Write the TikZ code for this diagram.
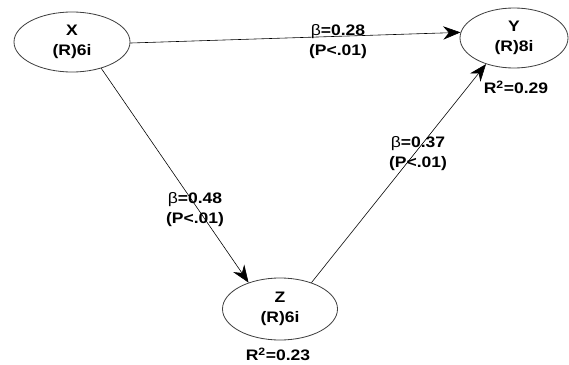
\documentclass[tikz,border=0pt]{standalone}
\usepackage{fontspec}
\setmainfont{Liberation Sans}[FakeStretch=1.15]
\usetikzlibrary{shapes.geometric,arrows.meta}

\begin{document}
\begin{tikzpicture}[x=0.03cm,y=-0.03cm,
  every node/.style={font=\bfseries\fontsize{13}{17}\selectfont, align=center, inner sep=0pt},
  var/.style={ellipse, draw=black!75, line width=0.7pt, minimum height=1.8cm},
  effect/.style={-{Stealth[length=5.2mm,width=4mm]}, line width=0.5pt}]
\useasboundingbox (0,0) rectangle (569,364);

\node[var, minimum width=3.48cm] (X) at (72,42) {X\\(R)6i};
\node[var, minimum width=3.24cm] (Y) at (514,38) {Y\\(R)8i};
\node[var, minimum width=3.45cm, minimum height=1.86cm] (Z) at (280,309) {Z\\(R)6i};

\node (r2y) at (516,87) {R\textsuperscript{2}=0.29};
\node (r2z) at (278,354) {R\textsuperscript{2}=0.23};

\draw[effect] (X.-1) -- (Y.174);
\draw[effect] (X.-42) -- (Z.140);
\draw[effect] (Z.40) -- (Y.223);

\node (bxy) at (338,42) {{\mdseries β}=0.28\\(P<.01)};
\node (bxz) at (195,210) {{\mdseries β}=0.48\\(P<.01)};
\node (bzy) at (418,154) {{\mdseries β}=0.37\\(P<.01)};
\end{tikzpicture}
\end{document}
